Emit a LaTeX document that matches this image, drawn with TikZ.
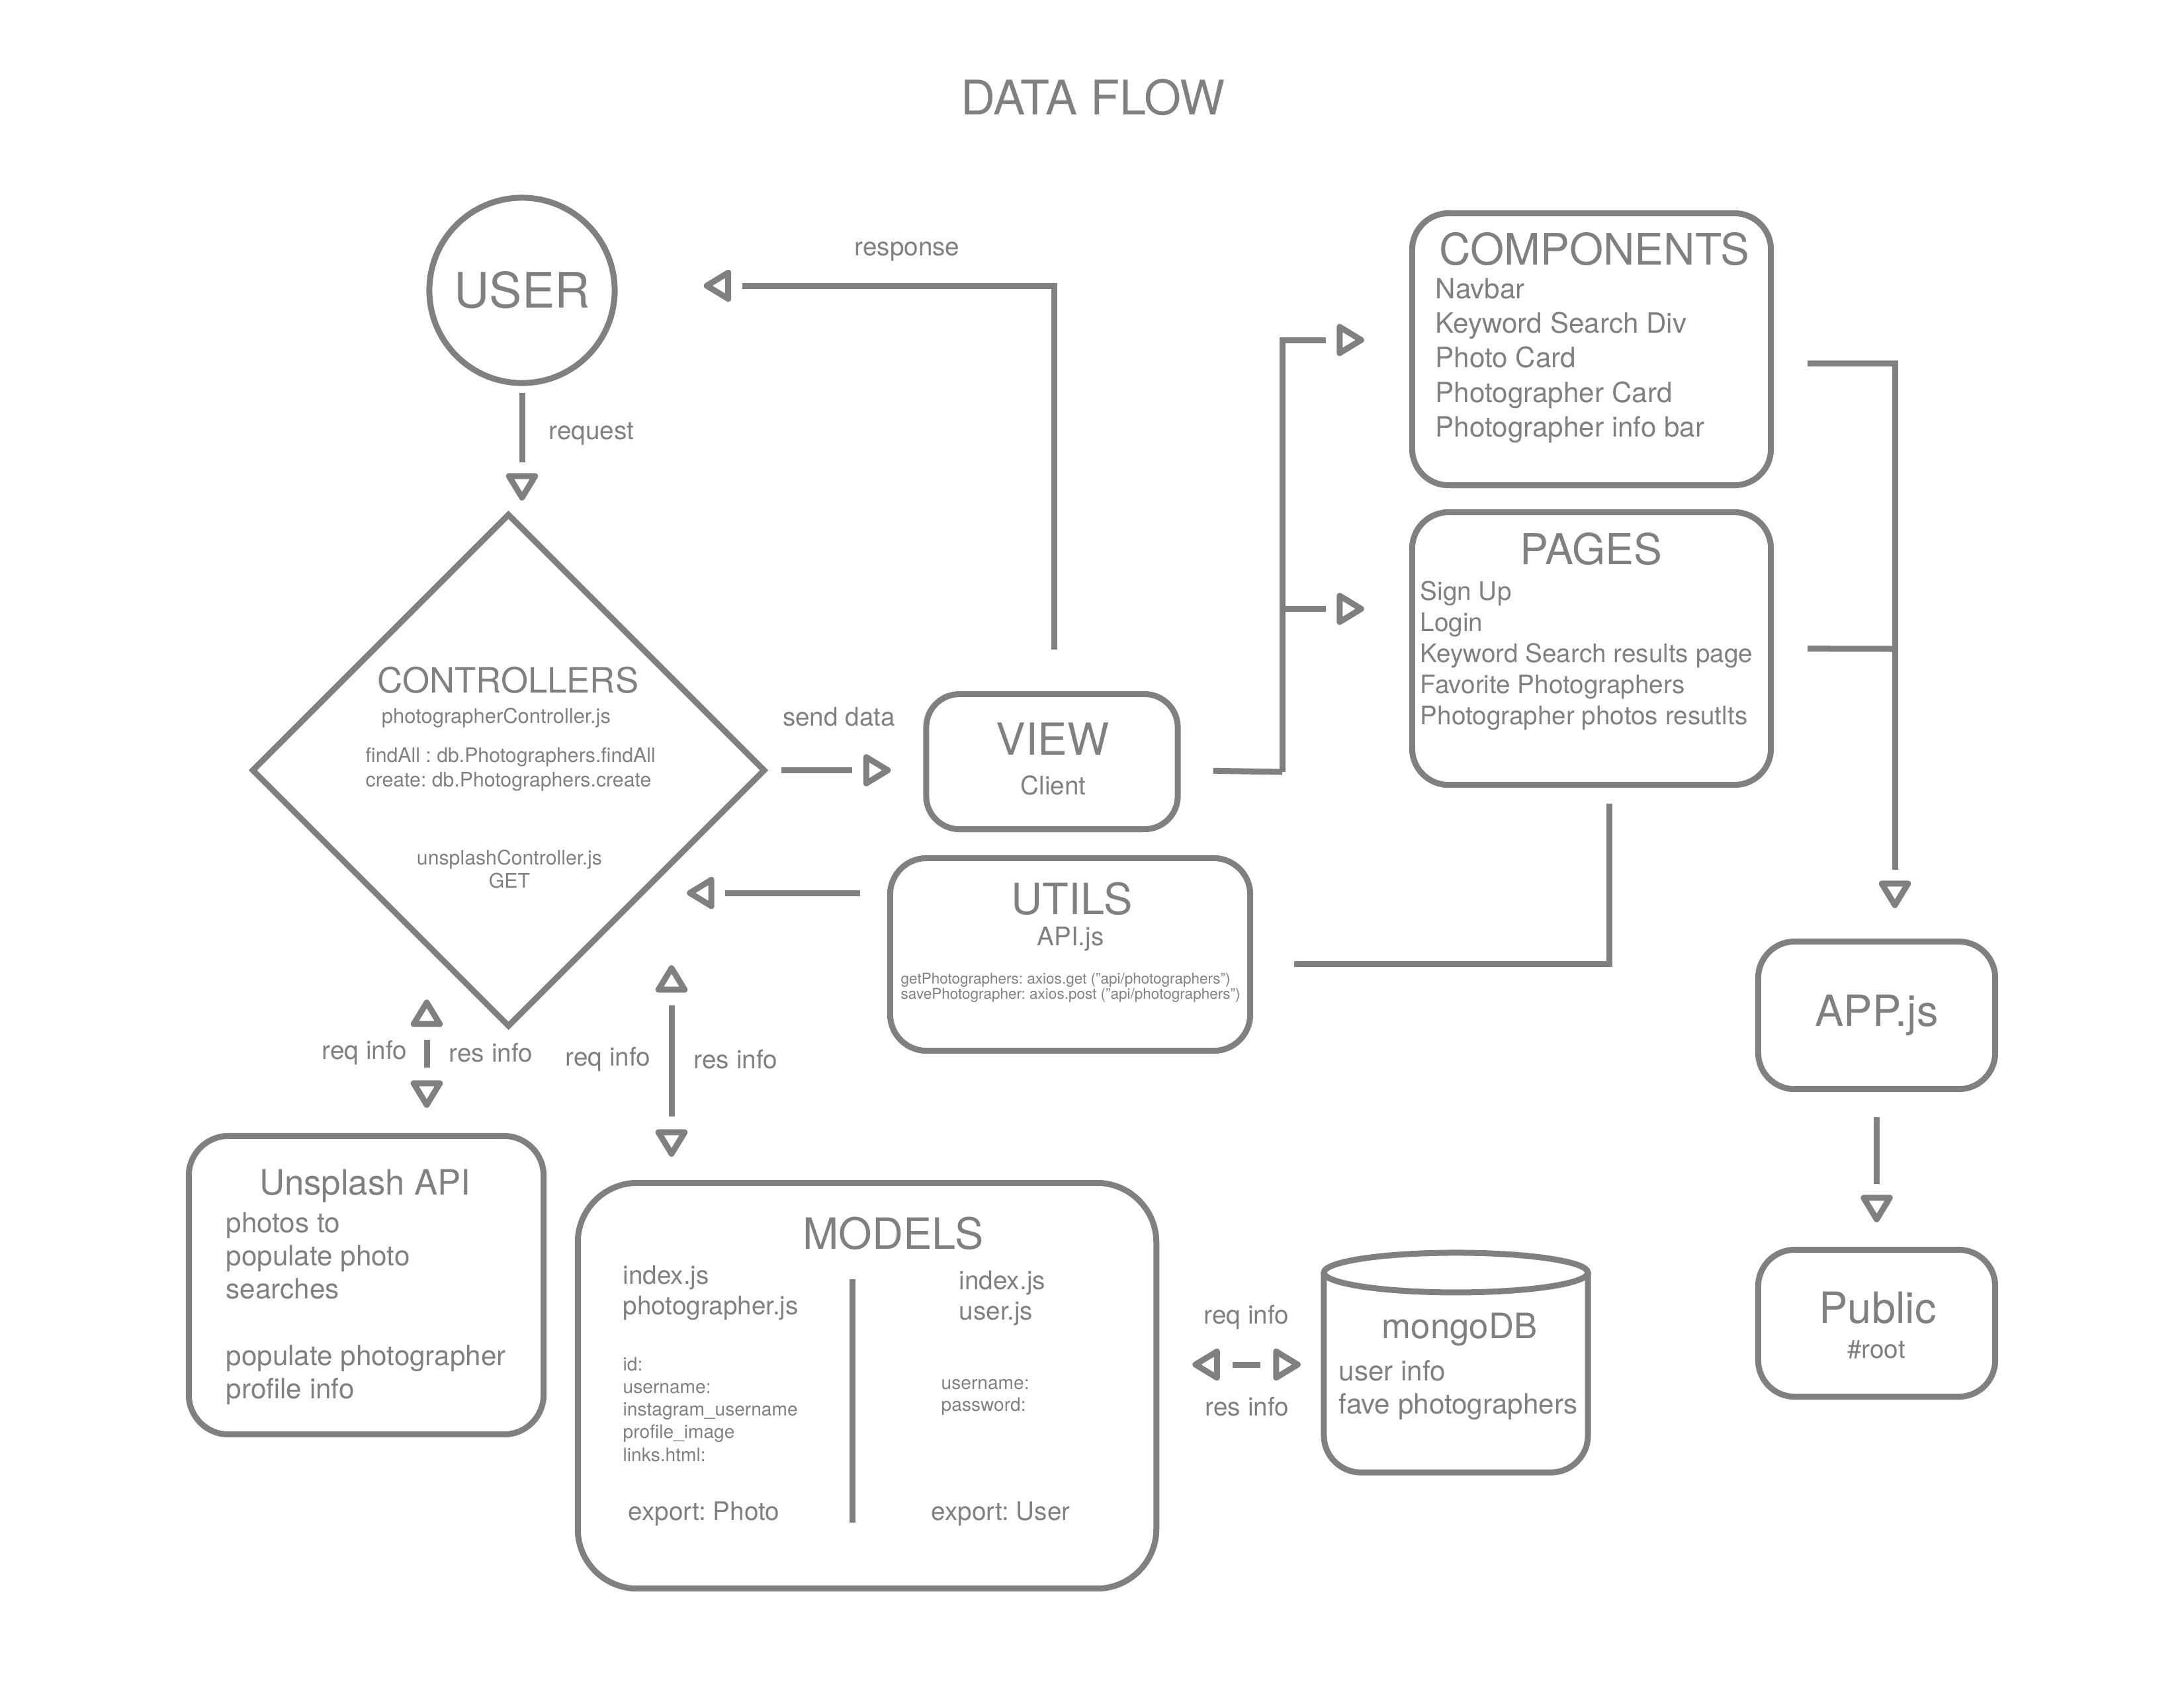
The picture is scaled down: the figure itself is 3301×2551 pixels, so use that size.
\documentclass[tikz,border=0pt]{standalone}
\usepackage{fontspec}
\setmainfont{TeX Gyre Heros}
\usetikzlibrary{shapes.geometric,arrows.meta,calc,decorations.markings}
\definecolor{ink}{RGB}{128,128,128}

\begin{document}
\frenchspacing
\begin{tikzpicture}[x=0.01cm, y=0.01cm]
\tikzstyle{every node}+=[inner sep=0pt, text=ink]
\tikzstyle{wire}=[ink, line width=0.09cm]
\tikzset{hollow/.tip={Triangle[open, length=0.46cm, width=0.53cm, line width=0.09cm, round, color=ink]},
  flow/.style={wire, shorten >=#1+0.58cm, postaction={decorate, decoration={markings, mark=at position -#1 with {\arrow{hollow}}}}},
  biflow/.style 2 args={wire, shorten <=#1+0.61cm, shorten >=#2+0.61cm, postaction={decorate, decoration={markings, mark=at position #1 with {\arrowreversed{hollow}}, mark=at position -#2 with {\arrow{hollow}}}}}}
\tikzstyle{box}=[draw=ink, line width=0.09cm, rounded corners=0.55cm]
\tikzstyle{lbl}=[font=\fontsize{11}{13}\selectfont]
\useasboundingbox (0,0) rectangle (3301,-2551);
\node[font=\fontsize{20.5}{24}\selectfont] (title) at (1652,-147) {DATA FLOW};
\node[draw=ink, line width=0.09cm, circle, minimum size=2.8cm, font=\fontsize{21}{25}\selectfont] (user) at (789,-439) {USER};
\node[draw=ink, line width=0.09cm, diamond, minimum width=7.76cm, minimum height=7.76cm] (ctrl) at (768.5,-1164.5) {};
\node[font=\fontsize{15}{18}\selectfont] (ctrltitle) at (768,-1028) {CONTROLLERS};
\node[font=\fontsize{8.8}{10.5}\selectfont] (ctrlfile) at (750,-1085) {photographerController.js};
\node[font=\fontsize{8.6}{10.5}\selectfont, align=left, anchor=west] (ctrlfns) at (552,-1163) {findAll : db.Photographers.findAll\\create: db.Photographers.create};
\node[font=\fontsize{8.6}{9.7}\selectfont, align=center] (ctrlget) at (770,-1314) {unsplashController.js\\GET};
\node[box, minimum width=5.42cm, minimum height=4.11cm] (comp) at (2405.5,-528) {};
\node[font=\fontsize{18.7}{22}\selectfont] (comptitle) at (2410,-377) {COMPONENTS};
\node[font=\fontsize{12}{14.9}\selectfont, align=left, anchor=west] (complist) at (2169,-545) {Navbar\\Keyword Search Div\\Photo Card\\Photographer Card\\Photographer info bar};
\node[box, minimum width=5.42cm, minimum height=4.12cm] (pages) at (2405.5,-980.5) {};
\node[font=\fontsize{18.3}{22}\selectfont] (pagestitle) at (2405,-830) {PAGES};
\node[font=\fontsize{11}{13.4}\selectfont, align=left, anchor=west] (pageslist) at (2146,-991) {Sign Up\\Login\\Keyword Search results page\\Favorite Photographers\\Photographer photos resutlts};
\node[box, minimum width=3.8cm, minimum height=2.04cm, rounded corners=0.5cm] (view) at (1590,-1151.5) {};
\node[font=\fontsize{19}{22}\selectfont] (viewtitle) at (1591,-1117) {VIEW};
\node[lbl] (viewsub) at (1592,-1187) {Client};
\node[box, minimum width=5.44cm, minimum height=2.91cm] (utils) at (1617.5,-1443) {};
\node[font=\fontsize{18.5}{22}\selectfont] (utilstitle) at (1620,-1359) {UTILS};
\node[lbl] (utilsfile) at (1618,-1420) {API.js};
\node[font=\fontsize{6.4}{6.6}\selectfont, align=left, anchor=west] (utilscode) at (1361,-1493.5) {getPhotographers: axios.get (”api/photographers”)\\savePhotographer: axios.post (”api/photographers”)};
\node[box, minimum width=3.58cm, minimum height=2.23cm, font=\fontsize{18.5}{22}\selectfont] (app) at (2836.5,-1535) {APP.js};
\node[box, minimum width=3.58cm, minimum height=2.22cm] (public) at (2836.5,-2000.5) {};
\node[font=\fontsize{18.5}{22}\selectfont] (publictitle) at (2838,-1977) {Public};
\node[lbl] (publicsub) at (2836,-2040) {\#root};
\node[box, minimum width=5.36cm, minimum height=4.51cm, rounded corners=0.6cm] (unsplash) at (553.5,-1943) {};
\node[font=\fontsize{15}{18}\selectfont] (unsplashtitle) at (552,-1793) {Unsplash API};
\node[font=\fontsize{12}{14.3}\selectfont, align=left, anchor=west] (unsplashlist) at (341,-1978) {photos to\\populate photo\\searches\\[14.3pt]populate photographer\\profile info};
\node[box, minimum width=8.74cm, minimum height=6.13cm, rounded corners=0.9cm] (models) at (1310.5,-2095) {};
\node[font=\fontsize{18.5}{22}\selectfont] (modelstitle) at (1350,-1865) {MODELS};
\draw[wire] (1288,-1934) -- (1288,-2302);
\node[font=\fontsize{11}{13.1}\selectfont, align=left, anchor=west] (photofiles) at (941,-1955) {index.js\\photographer.js};
\node[font=\fontsize{8}{9.74}\selectfont, align=left, anchor=west] (photofields) at (941,-2130.5) {id:\\username:\\instagram\_username\\profile\_image\\links.html:};
\node[font=\fontsize{11}{13}\selectfont, anchor=west] (photoexport) at (949,-2289) {export: Photo};
\node[font=\fontsize{11}{13.1}\selectfont, align=left, anchor=west] (userfiles) at (1449,-1963) {index.js\\user.js};
\node[font=\fontsize{8}{9.4}\selectfont, align=left, anchor=west] (userfields) at (1422,-2112.5) {username:\\password:};
\node[font=\fontsize{11}{13}\selectfont, anchor=west] (userexport) at (1407,-2289) {export: User};
\node[minimum width=3.99cm, minimum height=3.02cm, outer sep=0pt] (mongo) at (2200.5,-2075) {};
\draw[wire, rounded corners=0.56cm] (mongo.north west) -- (mongo.south west) -- (mongo.south east) -- (mongo.north east);
\draw[wire] (mongo.north) ellipse (199.5 and 30);
\node[font=\fontsize{15}{18}\selectfont] (mongotitle) at (2206,-2010) {mongoDB};
\node[font=\fontsize{12}{14.2}\selectfont, align=left, anchor=west] (mongolist) at (2023,-2102) {user info\\fave photographers};
\draw[flow=0.15cm, shorten <=0.1cm] (user.south) -- (user.south |- ctrl.north);
\node[lbl] (reqlbl) at (894,-656) {request};
\draw[flow=1.3cm, shorten <=0.63cm] ($(view.north)+(3,0)$) |- ($(user.east)+(0,7)$);
\node[lbl] (reslbl) at (1371,-380) {response};
\draw[flow=0.49cm, shorten <=0.2cm] (ctrl.east) -- (ctrl.east -| view.west);
\node[lbl] (sendlbl) at (1268,-1084) {send data};
\coordinate (vsplit) at (1938,-1167);
\draw[wire, shorten <=0.49cm] (ctrl.east -| view.east) -- (vsplit);
\draw[flow=0.68cm] (vsplit) |- ($(comp.west)+(0,14)$);
\draw[flow=0.68cm] (vsplit) |- ($(pages.west)+(0,60)$);
\coordinate (rsplit) at (2864,-981);
\draw[wire, shorten <=0.51cm] ($(comp.east)+(0,-21)$) -| (rsplit);
\draw[wire, shorten <=0.51cm] (pages.east) -- (rsplit);
\draw[flow=0.46cm] (rsplit) -- (rsplit |- app.north);
\draw[flow=0.37cm, shorten <=0.38cm] (app) -- (public);
\draw[wire, shorten <=0.62cm, shorten >=0.24cm] ($(utils.east)+(0,-14)$) -| ($(pages.south)+(26.5,0)$);
\coordinate (uback) at ($(utils.west)+(0,93)$);
\draw[flow=2.695cm, shorten <=0.41cm] (uback) -- (uback -| ctrl.center);
\coordinate (uspfoot) at ($(unsplash.north)+(91.5,0)$);
\draw[biflow={0.38cm}{3.465cm}] (uspfoot) -- (uspfoot |- ctrl.center);
\node[lbl] (uspreq) at (551,-1592) {req info};
\node[lbl] (uspres) at (742,-1592) {res info};
\coordinate (mdlfoot) at ($(models.north)+(-295.5,0)$);
\draw[biflow={0.35cm}{2.945cm}] (mdlfoot) -- (mdlfoot |- ctrl.center);
\node[lbl] (mdlreq) at (919,-1602) {req info};
\node[lbl] (mdlres) at (1112,-1602) {res info};
\coordinate (mongoy) at ($(mongo.west)+(0,12)$);
\draw[biflow={0.5cm}{0.35cm}] (models.east |- mongoy) -- (mongoy);
\node[lbl] (dbreq) at (1884,-1992) {req info};
\node[lbl] (dbres) at (1885,-2127) {res info};
\end{tikzpicture}
\end{document}
